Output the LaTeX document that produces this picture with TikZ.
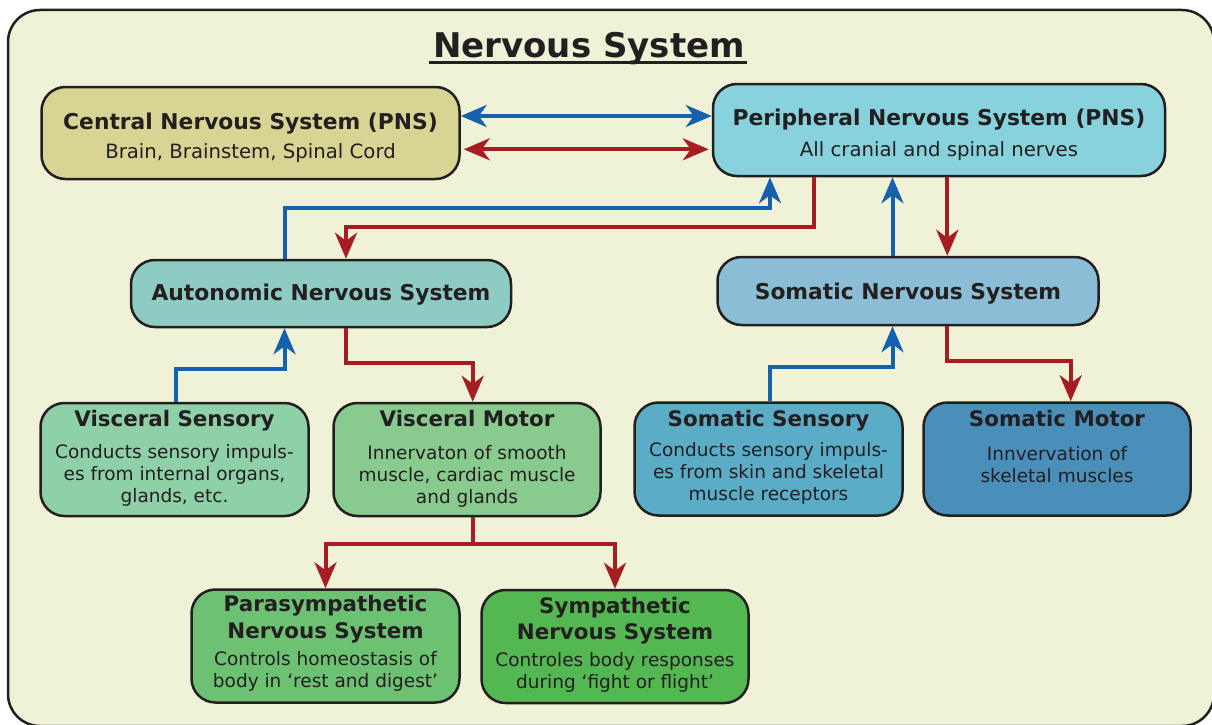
\documentclass[tikz,border=0pt]{standalone}
\usepackage{fontspec}
\setmainfont{DejaVu Sans}
\usetikzlibrary{arrows.meta}

\definecolor{ink}{HTML}{231F20}
\definecolor{panel}{HTML}{EFF2D6}
\definecolor{wireblue}{HTML}{1561AE}
\definecolor{wirered}{HTML}{A51D23}
\definecolor{cnsfill}{HTML}{D8D594}
\definecolor{pnsfill}{HTML}{87D2DD}
\definecolor{ansfill}{HTML}{8ECCC3}
\definecolor{snsfill}{HTML}{8BBED6}
\definecolor{vsfill}{HTML}{8ED0A8}
\definecolor{vmfill}{HTML}{89CB8E}
\definecolor{ssfill}{HTML}{5BADC7}
\definecolor{smfill}{HTML}{4A8EBA}
\definecolor{parafill}{HTML}{6DC173}
\definecolor{sympfill}{HTML}{53B852}

% first-line-baseline stack of centred lines
\newcommand{\linestack}[1]{\begin{tabular}[t]{@{}c@{}}#1\end{tabular}}

\tikzset{
  sysbox/.style={draw=ink, line width=2.5pt, rounded corners=24pt, inner sep=0pt},
  bighead/.style={anchor=base, inner sep=0pt, text=ink,
    font=\fontsize{21.8}{26}\selectfont\bfseries},
  bigsub/.style={anchor=base, inner sep=0pt, text=ink,
    font=\fontsize{19.7}{24}\selectfont},
  smallhead/.style={anchor=base, inner sep=0pt, text=ink,
    font=\fontsize{21.4}{26.6}\selectfont\bfseries},
  smallsub/.style={anchor=base, inner sep=0pt, text=ink,
    font=\fontsize{18.5}{22}\selectfont},
  tip/.tip={Stealth[length=26pt,width=22pt,inset=8pt]},
  sensewire/.style={draw=wireblue, line width=4pt},
  motorwire/.style={draw=wirered, line width=4pt},
}

\begin{document}
\begin{tikzpicture}[x=1pt,y=-1pt]
  \useasboundingbox (0,0) rectangle (1212,725);
  \fill[white] (0,0) rectangle (1212,725);
  \clip (0,0) rectangle (1212,725);

  % outer panel
  \draw[ink, line width=2.5pt, fill=panel, rounded corners=32pt]
    (8,10) rectangle (1214,726);

  % heading
  \node[anchor=base, inner sep=0pt, text=ink,
        font=\fontsize{34}{40}\selectfont\bfseries] (title) at (589,57) {Nervous System};
  \draw[ink, line width=3.2pt]
    ([xshift=-4pt,yshift=-5.5pt]title.base west) -- ([xshift=2pt,yshift=-5.5pt]title.base east);

  % boxes
  \node[sysbox, fill=cnsfill, minimum width=418pt, minimum height=92pt] (cns) at (250.5,133) {};
  \node[sysbox, fill=pnsfill, minimum width=452pt, minimum height=92pt] (pns) at (939,130) {};
  \node[sysbox, fill=ansfill, minimum width=380pt, minimum height=67pt] (ans) at (321,293.5) {};
  \node[sysbox, fill=snsfill, minimum width=381pt, minimum height=68pt] (sns) at (908,291) {};
  \node[sysbox, fill=vsfill, minimum width=268pt, minimum height=113pt] (vs) at (174.5,459.5) {};
  \node[sysbox, fill=vmfill, minimum width=267pt, minimum height=113pt] (vm) at (467,459.5) {};
  \node[sysbox, fill=ssfill, minimum width=268pt, minimum height=113pt] (ss) at (768.5,459) {};
  \node[sysbox, fill=smfill, minimum width=267pt, minimum height=113pt] (sm) at (1057,459) {};
  \node[sysbox, fill=parafill, minimum width=268pt, minimum height=113pt] (para) at (325.5,646) {};
  \node[sysbox, fill=sympfill, minimum width=267pt, minimum height=113pt] (symp) at (615,646.5) {};

  % box texts
  \node[bighead] (cnsT) at (250.5,129.3) {Central Nervous System (PNS)};
  \node[bigsub]  (cnsS) at (250.5,158) {Brain, Brainstem, Spinal Cord};
  \node[bighead] (pnsT) at (939,125.7) {Peripheral Nervous System (PNS)};
  \node[bigsub]  (pnsS) at (939,156) {All cranial and spinal nerves};
  \node[bighead] (ansT) at (321,300.7) {Autonomic Nervous System};
  \node[bighead] (snsT) at (908,299.3) {Somatic Nervous System};

  \node[smallhead] (vsT) at (174.5,426) {Visceral Sensory};
  \node[smallsub]  (vsS) at (174.5,458.3)
    {\linestack{Conducts sensory impuls-\\es from internal organs,\\glands, etc.}};
  \node[smallhead] (vmT) at (467,426) {Visceral Motor};
  \node[smallsub]  (vmS) at (467,459.3)
    {\linestack{Innervaton of smooth\\muscle, cardiac muscle\\and glands}};
  \node[smallhead] (ssT) at (768.5,426) {Somatic Sensory};
  \node[smallsub]  (ssS) at (768.5,456.7)
    {\linestack{Conducts sensory impuls-\\es from skin and skeletal\\muscle receptors}};
  \node[smallhead] (smT) at (1057,426) {Somatic Motor};
  \node[smallsub]  (smS) at (1057,460.7)
    {\linestack{Innvervation of\\skeletal muscles}};
  \node[smallhead] (paraT) at (325.5,611.7)
    {\linestack{Parasympathetic\\Nervous System}};
  \node[smallsub]  (paraS) at (325.5,665)
    {\linestack{Controls homeostasis of\\body in `rest and digest'}};
  \node[smallhead] (sympT) at (615,613.3)
    {\linestack{Sympathetic\\Nervous System}};
  \node[smallsub]  (sympS) at (615,666)
    {\linestack{Controles body responses\\during `fight or flight'}};

  % CNS <-> PNS
  \coordinate (lvB) at (0,116);
  \coordinate (lvR) at (0,149.3);
  \draw[sensewire, tip-tip] (cns.east |- lvB) -- (pns.west |- lvB);
  \draw[motorwire, tip-tip, shorten <=3pt, shorten >=3pt] (cns.east |- lvR) -- (pns.west |- lvR);

  % autonomic <-> peripheral
  \coordinate (aupA) at (285,208);
  \coordinate (aupB) at (770,208);
  \draw[sensewire, -tip] (ans.north -| aupA) -- (aupA) -- (aupB) -- (pns.south -| aupB);
  \coordinate (pdnA) at (813.5,226.5);
  \coordinate (pdnB) at (346,226.5);
  \draw[motorwire, -tip] (pns.south -| pdnA) -- (pdnA) -- (pdnB) -- (ans.north -| pdnB);

  % somatic <-> peripheral
  \coordinate (supX) at (892.5,200);
  \coordinate (sdnX) at (947.3,200);
  \draw[sensewire, -tip] (sns.north -| supX) -- (pns.south -| supX);
  \draw[motorwire, -tip] (pns.south -| sdnX) -- (sns.north -| sdnX);

  % visceral branches
  \coordinate (vupA) at (176,369);
  \coordinate (vupB) at (284.5,369);
  \draw[sensewire, -tip] (vs.north -| vupA) -- (vupA) -- (vupB) -- (ans.south -| vupB);
  \coordinate (vdnA) at (346,362.5);
  \coordinate (vdnB) at (472.7,362.5);
  \draw[motorwire, -tip] (ans.south -| vdnA) -- (vdnA) -- (vdnB) -- (vm.north -| vdnB);

  % somatic branches
  \coordinate (tupA) at (769.5,367);
  \coordinate (tupB) at (892.5,367);
  \draw[sensewire, -tip] (ss.north -| tupA) -- (tupA) -- (tupB) -- (sns.south -| tupB);
  \coordinate (tdnA) at (947.3,361);
  \coordinate (tdnB) at (1070.7,361);
  \draw[motorwire, -tip] (sns.south -| tdnA) -- (tdnA) -- (tdnB) -- (sm.north -| tdnB);

  % visceral motor splits into the two divisions
  \coordinate (split) at (472.8,544.3);
  \coordinate (splitL) at (325.5,544.3);
  \coordinate (splitR) at (615,544.3);
  \draw[motorwire] (vm.south -| split) -- (split);
  \draw[motorwire, tip-tip] (para.north -| splitL) -- (splitL) -- (splitR) -- (symp.north -| splitR);
\end{tikzpicture}
\end{document}
